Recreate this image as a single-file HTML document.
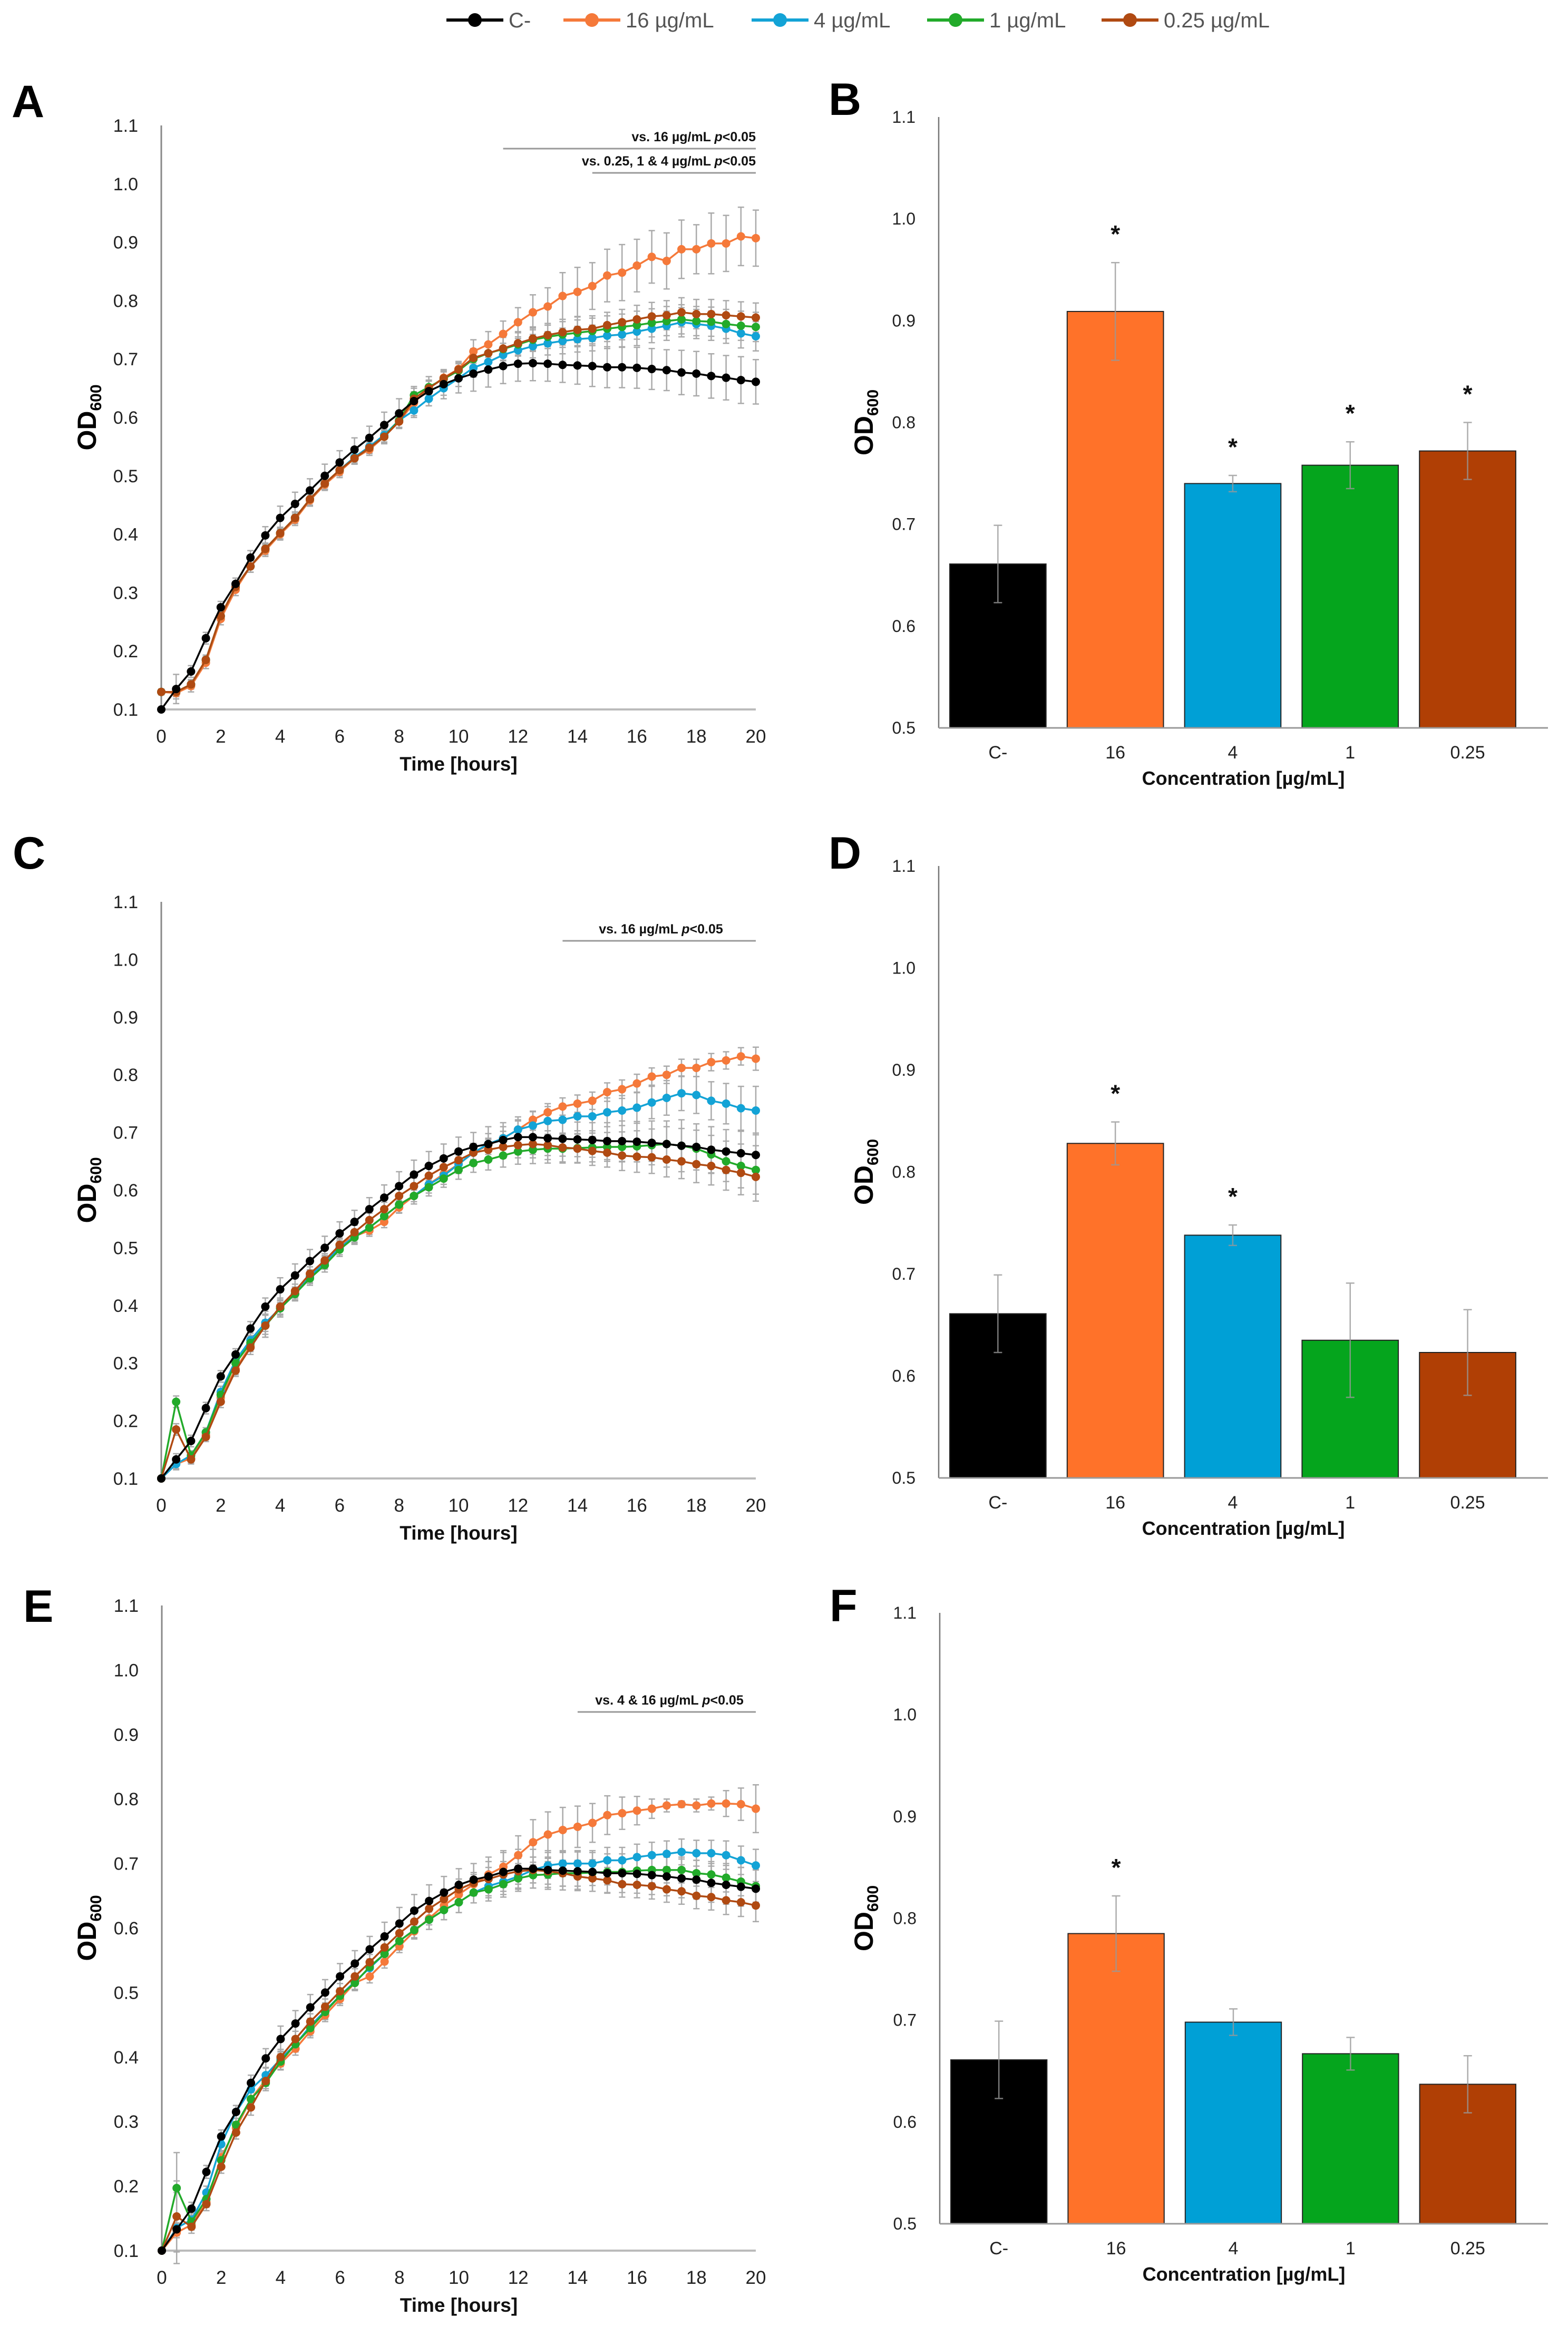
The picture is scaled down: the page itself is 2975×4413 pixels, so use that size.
<!DOCTYPE html>
<html><head><meta charset="utf-8">
<style>
html,body{margin:0;padding:0;background:#fff;}
svg{display:block;font-family:"Liberation Sans",sans-serif;}
</style></head>
<body>
<svg id="fig" width="2975" height="4413" viewBox="0 0 2975 4413" xmlns="http://www.w3.org/2000/svg">
<g id="legend"></g>
</svg>
<script>
// ---- shared data ----
const times = [0,0.5,1,1.5,2,2.5,3,3.5,4,4.5,5,5.5,6,6.5,7,7.5,8,8.5,9,9.5,10,10.5,11,11.5,12,12.5,13,13.5,14,14.5,15,15.5,16,16.5,17,17.5,18,18.5,19,19.5,20];
const seriesNames = ["C-","16 µg/mL","4 µg/mL","1 µg/mL","0.25 µg/mL"];
const seriesColors = ["#000000","#f5793a","#13a3d6","#22aa2a","#b04a12"];
const xTicks = [0,2,4,6,8,10,12,14,16,18,20];
const yTicksLine = [0.1,0.2,0.3,0.4,0.5,0.6,0.7,0.8,0.9,1.0,1.1];
const yTicksBar = [0.5,0.6,0.7,0.8,0.9,1.0,1.1];
const barCategories = ["C-","16","4","1","0.25"];
const barColors = ["#000000","#ff7229","#00a0d6","#05a51d","#b03f05"];

// ---- panel A ----
const aBlack = [0.10,0.135,0.165,0.222,0.275,0.315,0.36,0.398,0.428,0.452,0.475,0.50,0.523,0.545,0.565,0.587,0.607,0.628,0.645,0.657,0.667,0.675,0.682,0.688,0.692,0.693,0.692,0.690,0.689,0.688,0.686,0.686,0.685,0.683,0.681,0.677,0.675,0.671,0.668,0.664,0.661];
const aOrange = [0.13,0.128,0.14,0.18,0.255,0.305,0.345,0.372,0.40,0.425,0.458,0.485,0.507,0.53,0.545,0.567,0.593,0.625,0.65,0.668,0.683,0.713,0.725,0.743,0.763,0.78,0.79,0.808,0.815,0.825,0.843,0.848,0.86,0.875,0.868,0.888,0.888,0.898,0.898,0.91,0.907];
const aBlue = [0.13,0.13,0.143,0.185,0.26,0.31,0.345,0.375,0.402,0.428,0.46,0.487,0.51,0.532,0.55,0.57,0.595,0.612,0.632,0.65,0.667,0.685,0.695,0.707,0.715,0.722,0.727,0.731,0.734,0.736,0.74,0.742,0.747,0.752,0.757,0.763,0.76,0.757,0.752,0.744,0.739];
const aGreen = [0.13,0.13,0.143,0.185,0.26,0.31,0.345,0.375,0.402,0.428,0.46,0.487,0.51,0.53,0.548,0.567,0.595,0.638,0.652,0.666,0.68,0.70,0.71,0.717,0.725,0.733,0.738,0.742,0.745,0.748,0.752,0.755,0.758,0.762,0.765,0.768,0.765,0.764,0.76,0.757,0.755];
const aBrown = [0.13,0.13,0.143,0.185,0.26,0.31,0.345,0.375,0.402,0.428,0.46,0.487,0.51,0.53,0.548,0.567,0.593,0.632,0.65,0.667,0.682,0.702,0.71,0.718,0.727,0.735,0.741,0.746,0.75,0.752,0.758,0.763,0.768,0.773,0.775,0.78,0.777,0.777,0.775,0.773,0.771];
const aErrBlack = [0,0.025,0.01,0.01,0.01,0.01,0.012,0.015,0.02,0.02,0.02,0.02,0.02,0.02,0.02,0.022,0.025,0.025,0.025,0.025,0.025,0.03,0.03,0.03,0.03,0.03,0.03,0.03,0.032,0.035,0.035,0.035,0.035,0.035,0.035,0.038,0.038,0.038,0.038,0.04,0.038];
const aErrOrange = [0.005,0.01,0.01,0.01,0.01,0.01,0.01,0.01,0.01,0.01,0.01,0.01,0.01,0.01,0.01,0.01,0.01,0.012,0.012,0.012,0.012,0.02,0.022,0.022,0.025,0.03,0.032,0.04,0.042,0.04,0.045,0.048,0.045,0.045,0.048,0.05,0.042,0.052,0.048,0.05,0.048];
const aErrOther = [0.005,0.008,0.008,0.008,0.008,0.008,0.01,0.01,0.01,0.01,0.01,0.01,0.01,0.01,0.01,0.012,0.012,0.012,0.012,0.012,0.014,0.016,0.018,0.02,0.02,0.02,0.02,0.022,0.022,0.022,0.022,0.022,0.024,0.024,0.025,0.025,0.025,0.025,0.025,0.025,0.025];

// ---- panel C ----
const cBlack = [0.10,0.133,0.165,0.222,0.277,0.315,0.36,0.398,0.428,0.452,0.477,0.50,0.525,0.545,0.567,0.587,0.607,0.627,0.642,0.655,0.667,0.675,0.68,0.687,0.692,0.692,0.69,0.689,0.688,0.687,0.685,0.685,0.684,0.682,0.68,0.677,0.675,0.67,0.667,0.664,0.661];
const cOrange = [0.10,0.125,0.135,0.175,0.24,0.29,0.33,0.365,0.395,0.42,0.45,0.475,0.505,0.52,0.53,0.545,0.57,0.59,0.61,0.628,0.645,0.665,0.678,0.69,0.705,0.722,0.735,0.745,0.75,0.755,0.77,0.775,0.785,0.797,0.80,0.812,0.812,0.822,0.825,0.832,0.828];
const cBlue = [0.10,0.125,0.14,0.18,0.25,0.305,0.34,0.37,0.395,0.42,0.45,0.475,0.50,0.52,0.535,0.555,0.575,0.59,0.61,0.625,0.645,0.665,0.68,0.69,0.705,0.712,0.72,0.722,0.728,0.728,0.735,0.738,0.743,0.752,0.76,0.768,0.765,0.755,0.75,0.742,0.738];
const cGreen = [0.10,0.233,0.14,0.18,0.245,0.30,0.335,0.365,0.395,0.42,0.447,0.47,0.497,0.518,0.535,0.555,0.575,0.59,0.605,0.62,0.635,0.647,0.653,0.66,0.667,0.67,0.672,0.672,0.673,0.674,0.675,0.675,0.676,0.678,0.68,0.677,0.672,0.662,0.65,0.642,0.635];
const cBrown = [0.10,0.185,0.133,0.172,0.233,0.287,0.327,0.365,0.398,0.425,0.455,0.478,0.505,0.527,0.548,0.567,0.59,0.607,0.625,0.64,0.652,0.665,0.67,0.675,0.678,0.68,0.678,0.674,0.672,0.668,0.665,0.66,0.658,0.657,0.653,0.65,0.645,0.642,0.635,0.63,0.623];
const cErrBlack = [0,0.01,0.01,0.01,0.01,0.01,0.012,0.015,0.02,0.02,0.02,0.02,0.02,0.02,0.02,0.022,0.025,0.025,0.025,0.025,0.025,0.025,0.03,0.03,0.03,0.03,0.03,0.03,0.03,0.03,0.032,0.035,0.035,0.038,0.04,0.045,0.04,0.04,0.038,0.038,0.038];
const cErrOrange = [0,0.008,0.008,0.008,0.008,0.01,0.01,0.01,0.01,0.01,0.01,0.01,0.01,0.01,0.01,0.01,0.01,0.01,0.01,0.01,0.012,0.012,0.012,0.012,0.015,0.015,0.015,0.015,0.015,0.015,0.016,0.016,0.016,0.015,0.015,0.015,0.015,0.015,0.015,0.015,0.02];
const cErrOther = [0,0.01,0.008,0.008,0.01,0.01,0.012,0.02,0.015,0.012,0.012,0.012,0.012,0.012,0.012,0.012,0.014,0.014,0.015,0.015,0.016,0.016,0.018,0.02,0.022,0.024,0.025,0.025,0.025,0.025,0.025,0.026,0.027,0.028,0.03,0.03,0.032,0.033,0.035,0.038,0.042];

// ---- panel E ----
const eBlack = [0.10,0.133,0.165,0.222,0.277,0.315,0.36,0.398,0.428,0.452,0.477,0.50,0.525,0.545,0.567,0.587,0.607,0.627,0.642,0.655,0.667,0.675,0.68,0.687,0.692,0.692,0.69,0.689,0.688,0.687,0.685,0.685,0.684,0.682,0.68,0.677,0.675,0.67,0.667,0.664,0.661];
const eOrange = [0.10,0.128,0.14,0.175,0.245,0.29,0.335,0.365,0.39,0.413,0.44,0.465,0.49,0.515,0.525,0.548,0.572,0.595,0.615,0.635,0.652,0.668,0.683,0.695,0.713,0.733,0.745,0.752,0.757,0.763,0.775,0.778,0.782,0.785,0.79,0.792,0.79,0.793,0.793,0.792,0.785];
const eBlue = [0.10,0.135,0.148,0.19,0.265,0.315,0.35,0.372,0.397,0.42,0.448,0.472,0.495,0.517,0.538,0.56,0.58,0.597,0.613,0.628,0.64,0.655,0.665,0.672,0.68,0.69,0.697,0.70,0.70,0.70,0.705,0.705,0.71,0.713,0.715,0.718,0.716,0.716,0.713,0.705,0.697];
const eGreen = [0.10,0.197,0.145,0.18,0.24,0.295,0.335,0.36,0.393,0.42,0.445,0.47,0.495,0.515,0.54,0.56,0.58,0.597,0.613,0.628,0.64,0.655,0.66,0.668,0.677,0.682,0.683,0.685,0.685,0.686,0.687,0.687,0.689,0.69,0.69,0.69,0.685,0.683,0.678,0.672,0.665];
const eBrown = [0.10,0.153,0.137,0.172,0.23,0.283,0.322,0.363,0.40,0.428,0.455,0.478,0.502,0.525,0.547,0.57,0.592,0.61,0.63,0.645,0.66,0.67,0.676,0.683,0.688,0.69,0.688,0.685,0.68,0.677,0.674,0.668,0.667,0.665,0.66,0.657,0.65,0.648,0.643,0.64,0.635];
const eErrBlack = [0,0.01,0.01,0.01,0.01,0.01,0.012,0.015,0.02,0.02,0.02,0.02,0.02,0.02,0.02,0.022,0.025,0.025,0.025,0.025,0.025,0.025,0.03,0.03,0.03,0.03,0.03,0.03,0.03,0.03,0.03,0.03,0.03,0.03,0.03,0.03,0.03,0.03,0.03,0.03,0.03];
const eErrOrange = [0,0.008,0.008,0.008,0.008,0.01,0.01,0.01,0.01,0.01,0.01,0.01,0.01,0.01,0.01,0.01,0.01,0.01,0.01,0.01,0.012,0.015,0.02,0.025,0.03,0.035,0.035,0.035,0.032,0.03,0.03,0.025,0.022,0.015,0.01,0.005,0.01,0.01,0.02,0.025,0.037];
const eErrOther = [0,0.055,0.01,0.01,0.01,0.01,0.012,0.012,0.012,0.012,0.012,0.012,0.012,0.012,0.012,0.012,0.014,0.014,0.015,0.015,0.016,0.016,0.018,0.02,0.02,0.02,0.02,0.02,0.02,0.02,0.02,0.02,0.02,0.02,0.02,0.02,0.02,0.02,0.022,0.022,0.025];

// ---- bar panels ----
const bMeans = [0.661,0.909,0.740,0.758,0.772];
const bErr = [0.038,0.048,0.008,0.023,0.028];
const bSig = [false,true,true,true,true];
const dMeans = [0.661,0.828,0.738,0.635,0.623];
const dErr = [0.038,0.021,0.010,0.056,0.042];
const dSig = [false,true,true,false,false];
const fMeans = [0.661,0.785,0.698,0.667,0.637];
const fErr = [0.038,0.037,0.013,0.016,0.028];
const fSig = [false,true,false,false,false];

const NS = "http://www.w3.org/2000/svg";
const svg = document.getElementById("fig");
function mk(tag, attrs, parent, text){
  const e = document.createElementNS(NS, tag);
  for (const k in attrs) e.setAttribute(k, attrs[k]);
  if (text !== undefined) e.textContent = text;
  (parent || svg).appendChild(e);
  return e;
}

// legend
const legend = document.getElementById("legend");
const legX = [847,1069,1426,1759,2090];
seriesNames.forEach((nm,i)=>{
  const g = mk("g",{},legend);
  
  
  mk("line",{x1:legX[i],y1:38,x2:legX[i]+108,y2:38,stroke:seriesColors[i],"stroke-width":6},g);
  mk("circle",{cx:legX[i]+54,cy:38,r:13,fill:seriesColors[i]},g);
  mk("text",{x:legX[i]+118,y:52,"font-size":40,fill:"#555"},g,nm);
});

function panelLabel(t,x,y){
  const e = mk("text",{x:x,y:y,"font-size":86,"font-weight":"bold",fill:"#000"},svg,t);
  
  
}

function yTitle(g,x,y){
  const t = mk("text",{transform:`translate(${x},${y}) rotate(-90)`,"text-anchor":"middle","font-size":50,"font-weight":"bold",fill:"#000"},g);
  
  
  mk("tspan",{},t,"OD");
  mk("tspan",{"font-size":30,dy:10},t,"600");
}

function linePanel(name, x0, x1, yBot, yTop, series, errs, sigs){
  const g = mk("g",{});
  
  
  const X = t => x0 + (t-0)/(20-0)*(x1-x0);
  const Y = v => yBot - (v-0.1)/(1.1-0.1)*(yBot-yTop);
  const ya = mk("line",{x1:x0,y1:yTop,x2:x0,y2:yBot,stroke:"#888","stroke-width":3},g);
  
  
  const xa = mk("line",{x1:x0,y1:yBot,x2:x1,y2:yBot,stroke:"#bbb","stroke-width":4},g);
  
  
  yTicksLine.forEach(v=>{
    const t = mk("text",{x:x0-44,y:Y(v)+12,"text-anchor":"end","font-size":34,fill:"#222"},g,v.toFixed(1));
    
    
  });
  xTicks.forEach(v=>{
    const t = mk("text",{x:X(v),y:yBot+63,"text-anchor":"middle","font-size":35,fill:"#222"},g,String(v));
    
    
  });
  const xt = mk("text",{x:(x0+x1)/2,y:yBot+116,"text-anchor":"middle","font-size":37,"font-weight":"bold",fill:"#111"},g,"Time [hours]");
  
  
  yTitle(g, 182, (yTop+yBot)/2);
  series.forEach((vals,si)=>{
    const er = errs[si];
    vals.forEach((v,i)=>{
      if (er[i] <= 0) return;
      const e = mk("path",{d:`M${X(times[i])},${Y(v+er[i])}V${Y(v-er[i])}M${X(times[i])-6},${Y(v+er[i])}h12M${X(times[i])-6},${Y(v-er[i])}h12`,stroke:"#aaa","stroke-width":2.5,fill:"none"},g);
      
      
    });
  });
  const order = [1,2,3,4,0];
  order.forEach(si=>{
    const vals = series[si];
    const sg = mk("g",{},g);
    
    
    const pts = vals.map((v,i)=>X(times[i])+","+Y(v)).join(" ");
    mk("polyline",{points:pts,fill:"none",stroke:seriesColors[si],"stroke-width":3.5},sg);
    vals.forEach((v,i)=>{
      const c = mk("circle",{cx:X(times[i]),cy:Y(v),r:8,fill:seriesColors[si]},sg);
      
      
    });
  });
  sigs.forEach(s=>{
    const l = mk("line",{x1:X(s.from),y1:s.y,x2:x1,y2:s.y,stroke:"#999","stroke-width":3},g);
    
    
    const t = mk("text",{x:s.tx,y:s.y-14,"text-anchor":s.anchor,"font-size":25,"font-weight":"bold",fill:"#111"},g);
    
    
    mk("tspan",{},t,s.text+" ");
    mk("tspan",{"font-style":"italic"},t,"p");
    mk("tspan",{},t,"<0.05");
  });
}

function barPanel(name, x0, x1, yBot, yTop, means, errs, sig){
  const g = mk("g",{});
  
  
  const Y = v => yBot - (v-0.5)/(1.1-0.5)*(yBot-yTop);
  const pitch = (x1-x0-42)/5;
  const bw = pitch*0.82;
  const cx = i => x0 + 21 + pitch*i + bw/2;
  yTicksBar.forEach(v=>{
    const t = mk("text",{x:x0-44,y:Y(v)+11,"text-anchor":"end","font-size":32,fill:"#222"},g,v.toFixed(1));
    
    
  });
  means.forEach((m,i)=>{
    const r = mk("rect",{x:cx(i)-bw/2,y:Y(m),width:bw,height:yBot-Y(m),fill:barColors[i],stroke:"#222","stroke-width":2},g);
    
    
    const e = mk("path",{d:`M${cx(i)},${Y(m+errs[i])}V${Y(m-errs[i])}M${cx(i)-8},${Y(m+errs[i])}h16M${cx(i)-8},${Y(m-errs[i])}h16`,stroke:"#999","stroke-opacity":0.8,"stroke-width":2.5,fill:"none"},g);
    
    
    if (sig[i]){
      const s = mk("text",{x:cx(i),y:Y(m+errs[i])-38,"text-anchor":"middle","font-size":46,"font-weight":"bold",fill:"#111"},g,"*");
      
      
    }
    const t = mk("text",{x:cx(i),y:yBot+58,"text-anchor":"middle","font-size":34,fill:"#222"},g,barCategories[i]);
    
    
  });
  const ya = mk("line",{x1:x0,y1:yTop,x2:x0,y2:yBot,stroke:"#777","stroke-width":2.5},g);
  
  
  const xa = mk("line",{x1:x0,y1:yBot,x2:x1,y2:yBot,stroke:"#999","stroke-width":3},g);
  
  
  const xt = mk("text",{x:(x0+x1)/2,y:yBot+108,"text-anchor":"middle","font-size":36,"font-weight":"bold",fill:"#111"},g,"Concentration [µg/mL]");
  
  
  yTitle(g, 1656, (yTop+yBot)/2);
}

panelLabel("A",22,222);
panelLabel("B",1572,218);
panelLabel("C",24,1648);
panelLabel("D",1572,1648);
panelLabel("E",44,3077);
panelLabel("F",1574,3076);

linePanel("chart-a-growth",306,1434,1346,238,[aBlack,aOrange,aBlue,aGreen,aBrown],[aErrBlack,aErrOrange,aErrOther,aErrOther,aErrOther],
  [{from:11.5,y:282,text:"vs. 16 µg/mL",tx:1434,anchor:"end"},{from:14.5,y:328,text:"vs. 0.25, 1 & 4 µg/mL",tx:1434,anchor:"end"}]);
linePanel("chart-c-growth",306,1434,2805,1711,[cBlack,cOrange,cBlue,cGreen,cBrown],[cErrBlack,cErrOrange,cErrOther,cErrOther,cErrOther],
  [{from:13.5,y:1785,text:"vs. 16 µg/mL",tx:1254,anchor:"middle"}]);
linePanel("chart-e-growth",307,1434,4270,3046,[eBlack,eOrange,eBlue,eGreen,eBrown],[eErrBlack,eErrOrange,eErrOther,eErrOther,eErrOther],
  [{from:14,y:3248,text:"vs. 4 & 16 µg/mL",tx:1270,anchor:"middle"}]);

barPanel("chart-b-final-od",1781,2937,1381,222,bMeans,bErr,bSig);
barPanel("chart-d-final-od",1781,2937,2804,1643,dMeans,dErr,dSig);
barPanel("chart-f-final-od",1783,2937,4219,3060,fMeans,fErr,fSig);
</script>
</body></html>
